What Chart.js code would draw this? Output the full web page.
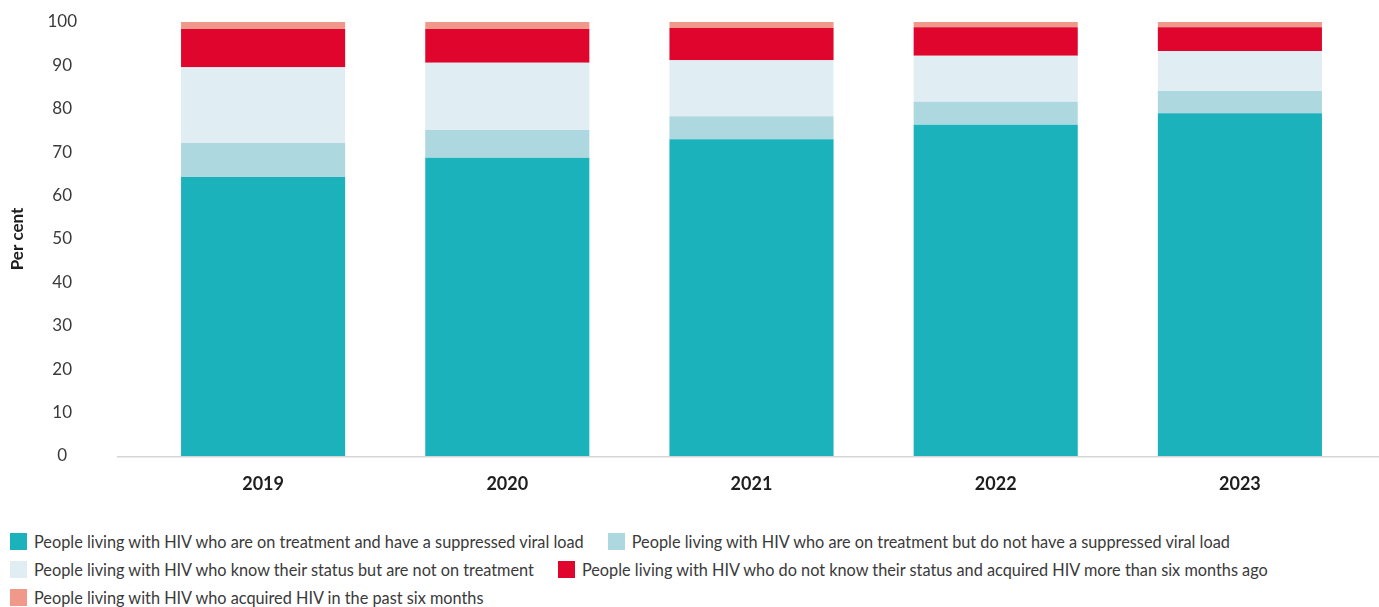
<!DOCTYPE html>
<html>
<head>
<meta charset="utf-8">
<script src="https://cdn.jsdelivr.net/npm/chart.js@4"></script>
<style>
  html, body { margin: 0; padding: 0; background: #fff; }
  body { width: 1379px; height: 607px; overflow: hidden; font-family: Lato, "Noto Sans", sans-serif; }
  #wrap { position: relative; width: 1379px; height: 500px; }
  #legend {
    position: absolute; left: 10px; top: 527px; width: 1369px;
    display: flex; flex-wrap: wrap; column-gap: 24px;
  }
  .item { display: flex; align-items: center; height: 28px; font-size: 16.3px; color: #3a3a3a; white-space: nowrap; }
  .box { width: 17px; height: 17px; margin-right: 7px; flex: none; }
</style>
</head>
<body>
<div id="wrap"><canvas id="chart"></canvas></div>
<div id="legend"></div>
<script>
// years and stacked shares (per cent)
const categories = ['2019', '2020', '2021', '2022', '2023'];
const suppressed = [64.3, 68.7, 73.0, 76.3, 79.0];
const notSuppressed = [7.8, 6.4, 5.3, 5.3, 5.1];
const notOnTreatment = [17.5, 15.5, 12.9, 10.6, 9.2];
const unawareOlder = [8.8, 7.8, 7.4, 6.6, 5.5];
const recentlyAcquired = [1.6, 1.6, 1.4, 1.2, 1.2];
const yTicks = [0, 10, 20, 30, 40, 50, 60, 70, 80, 90, 100];

const seriesLabels = [
  'People living with HIV who are on treatment and have a suppressed viral load',
  'People living with HIV who are on treatment but do not have a suppressed viral load',
  'People living with HIV who know their status but are not on treatment',
  'People living with HIV who do not know their status and acquired HIV more than six months ago',
  'People living with HIV who acquired HIV in the past six months'
];
const seriesColors = ['#1cb2bc', '#add8df', '#e0eef3', '#df052d', '#f0998a'];
const seriesData = [suppressed, notSuppressed, notOnTreatment, unawareOlder, recentlyAcquired];

// long grey baseline under the bars, wider than the plot area
const baseline = {
  id: 'baseline',
  afterDatasetsDraw(chart) {
    const y = chart.scales.y.getPixelForValue(0);
    const ctx = chart.ctx;
    ctx.save();
    ctx.strokeStyle = '#d6d6d6';
    ctx.lineWidth = 1.5;
    ctx.beginPath();
    ctx.moveTo(117, y + 0.75);
    ctx.lineTo(1379, y + 0.75);
    ctx.stroke();
    ctx.restore();
  }
};

const chart = new Chart(document.getElementById('chart'), {
  type: 'bar',
  data: {
    labels: categories,
    datasets: seriesData.map((d, i) => ({
      label: seriesLabels[i],
      data: d,
      backgroundColor: seriesColors[i],
      borderWidth: 0,
      barPercentage: 0.672,
      categoryPercentage: 1
    }))
  },
  options: {
    responsive: true,
    maintainAspectRatio: false,
    animation: false,
    layout: { padding: { top: 22, right: 17, left: 0, bottom: 0 } },
    plugins: { legend: { display: false }, tooltip: { enabled: false } },
    scales: {
      x: {
        stacked: true,
        grid: { display: false, drawTicks: false },
        border: { display: false },
        ticks: { padding: 17, color: '#1e1e1e', font: { family: 'Lato', size: 18, weight: 'bold' } },
        afterFit(s) { s.height = 44; }
      },
      y: {
        stacked: true,
        min: 0,
        max: 100,
        afterBuildTicks(s) { s.ticks = yTicks.map(v => ({ value: v })); },
        // tick marks stay hidden; tickLength only pushes the labels left
        grid: { display: false, drawTicks: true, tickLength: 64 },
        border: { display: false },
        ticks: { padding: 0, crossAlign: 'center', color: '#3a3a3a', font: { family: 'Lato', size: 17 } },
        title: { display: true, text: 'Per cent', color: '#1e1e1e', padding: { top: 7, bottom: 0 }, font: { family: 'Lato', size: 17, weight: 'bold' } },
        afterFit(s) { s.width = 141; }
      }
    }
  },
  plugins: [baseline]
});

// redraw once the bold face is available
document.fonts.load('bold 17px Lato').then(() => chart.update());

// legend rows under the chart
const legend = document.getElementById('legend');
seriesLabels.forEach((text, i) => {
  const item = document.createElement('div');
  item.className = 'item';
  const box = document.createElement('span');
  box.className = 'box';
  box.style.background = seriesColors[i];
  item.appendChild(box);
  item.appendChild(document.createTextNode(text));
  legend.appendChild(item);
});
</script>
</body>
</html>
